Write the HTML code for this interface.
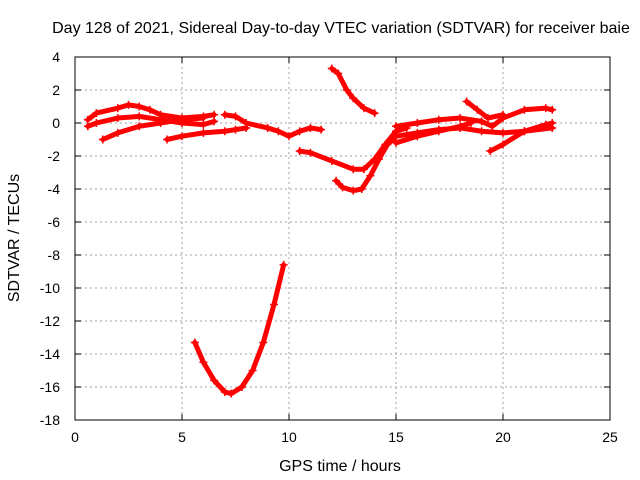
<!DOCTYPE html>
<html><head><meta charset="utf-8"><style>
html,body{margin:0;padding:0;background:#fff}
svg{display:block;font-family:"Liberation Sans",sans-serif}
</style></head><body>
<svg id="chart" width="640" height="480">
<text x="341" y="33" text-anchor="middle" font-size="16">Day 128 of 2021, Sidereal Day-to-day VTEC variation (SDTVAR) for receiver baie</text>
<text x="340" y="471" text-anchor="middle" font-size="16">GPS time / hours</text>
<text transform="translate(19,238) rotate(-90)" text-anchor="middle" font-size="16">SDTVAR / TECUs</text>
<g id="grid"></g><g id="ticks"></g><g id="series"></g>
<rect x="75" y="57" width="535" height="363" fill="none" stroke="#000"/>
</svg>
<script>
const xTicks=[0,5,10,15,20,25];
const yTicks=[4,2,0,-2,-4,-6,-8,-10,-12,-14,-16,-18];
const trackA=[[0.6,0.2],[1,0.6],[2,0.9],[2.5,1.1],[3,1.0],[3.5,0.8],[4,0.5],[5,0.3],[6,0.4],[6.5,0.5]];
const trackB=[[0.6,-0.2],[1,0],[2,0.3],[3,0.4],[4,0.2],[5,0],[6,-0.1],[6.5,0.1]];
const trackC=[[1.3,-1.0],[2,-0.6],[3,-0.2],[4,0],[5,0.2],[6,0.3]];
const trackD=[[4.3,-1.0],[5,-0.8],[6,-0.6],[7,-0.5],[7.5,-0.4],[8,-0.3]];
const trackE=[[7,0.5],[7.5,0.4],[8,0],[9,-0.3],[9.5,-0.5],[10,-0.8],[10.5,-0.5],[11,-0.3],[11.5,-0.4]];
const trackF=[[10.5,-1.7],[11,-1.8],[12,-2.3],[13,-2.8],[13.5,-2.8],[14,-2.2],[14.5,-1.3],[15,-0.5],[15.5,-0.3]];
const trackG=[[12,3.3],[12.3,3.0],[12.7,2.0],[13,1.5],[13.5,0.9],[14,0.6]];
const trackH=[[12.2,-3.5],[12.5,-3.9],[13,-4.1],[13.4,-4.0],[13.8,-3.2],[14.2,-2.2],[14.6,-1.3],[15,-0.8],[16,-0.6],[17,-0.4],[18,-0.3],[19,-0.5],[20,-0.6],[21,-0.5],[22.3,-0.3]];
const trackI=[[15,-0.2],[16,0],[17,0.2],[18,0.3],[19,0.1],[19.5,-0.2],[20,0.3],[21,0.8],[22,0.9],[22.3,0.8]];
const trackJ=[[18.3,1.3],[18.8,0.8],[19.3,0.3],[20,0.5]];
const trackK=[[19.4,-1.7],[20,-1.3],[21,-0.5],[22,-0.1],[22.3,0]];
const trackL=[[15,-1.2],[16,-0.8],[17,-0.5],[18,-0.2],[18.5,0]];
const trackM=[[5.6,-13.3],[6,-14.5],[6.5,-15.6],[7,-16.3],[7.3,-16.4],[7.8,-16.0],[8.3,-15.0],[8.8,-13.3],[9.3,-11.0],[9.75,-8.6]];
const tracks=[trackA,trackB,trackC,trackD,trackE,trackF,trackG,trackH,trackI,trackJ,trackK,trackL,trackM];
const NS="http://www.w3.org/2000/svg";
const X=v=>75+v*(535/25);
const Y=v=>57+(4-v)*(363/22);
function mk(tag,attrs,parent){const e=document.createElementNS(NS,tag);for(const k in attrs)e.setAttribute(k,attrs[k]);parent.appendChild(e);return e;}
const grid=document.getElementById('grid'),ticks=document.getElementById('ticks'),ser=document.getElementById('series');
xTicks.forEach(t=>{
  if(t>0&&t<25){const g=mk('line',{x1:X(t),x2:X(t),y1:57,y2:420,stroke:'#a0a0a0','stroke-dasharray':'2,3'},grid);
  
  }
  mk('line',{x1:X(t),x2:X(t),y1:420,y2:414,stroke:'#000'},ticks);
  mk('line',{x1:X(t),x2:X(t),y1:57,y2:63,stroke:'#000'},ticks);
  const l=mk('text',{x:X(t),y:442,'text-anchor':'middle','font-size':14},ticks);l.textContent=t;
  
  
});
yTicks.forEach(t=>{
  if(t<4&&t>-18){const g=mk('line',{x1:75,x2:610,y1:Y(t),y2:Y(t),stroke:'#a0a0a0','stroke-dasharray':'2,3'},grid);
  
  }
  mk('line',{x1:75,x2:81,y1:Y(t),y2:Y(t),stroke:'#000'},ticks);
  mk('line',{x1:604,x2:610,y1:Y(t),y2:Y(t),stroke:'#000'},ticks);
  const l=mk('text',{x:60,y:Y(t)+5,'text-anchor':'end','font-size':14},ticks);l.textContent=t;
  
  
});
tracks.forEach((tr,i)=>{
  const g=mk('g',{},ser);
  
  
  mk('polyline',{points:tr.map(p=>X(p[0])+','+Y(p[1])).join(' '),fill:'none',stroke:'#f00','stroke-width':5,'stroke-linejoin':'round','stroke-linecap':'round'},g);
  tr.forEach(p=>{
    const cx=X(p[0]),cy=Y(p[1]);
    mk('path',{d:`M${cx-4},${cy}H${cx+4}M${cx},${cy-4}V${cy+4}`,stroke:'#f00','stroke-width':1.5},g);
  });
});
</script>
</body></html>
